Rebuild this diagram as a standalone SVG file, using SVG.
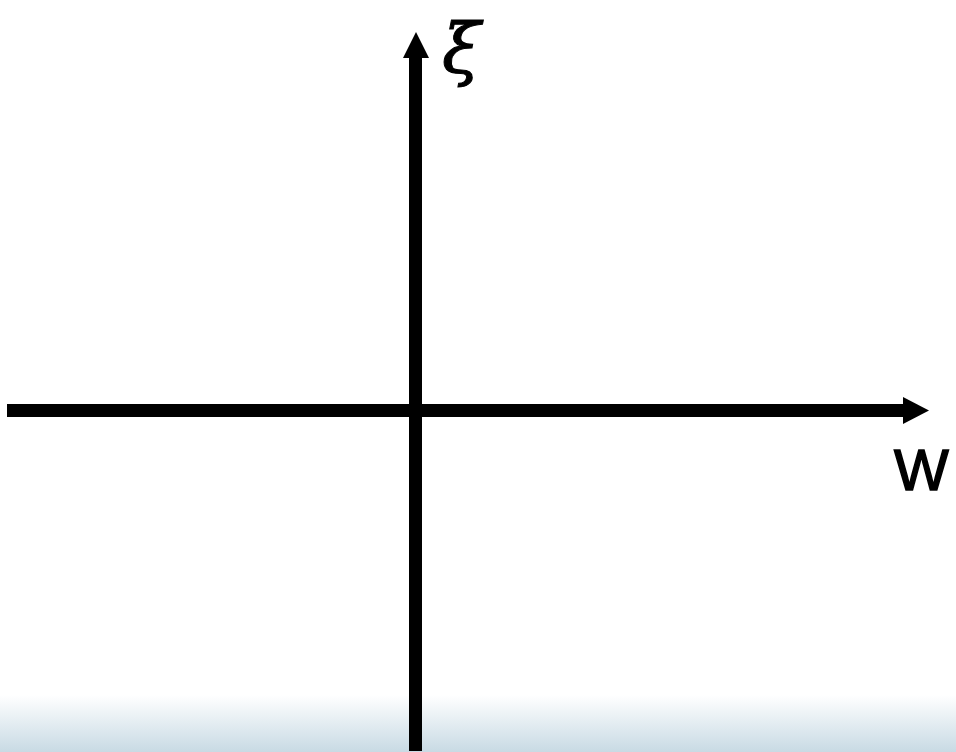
<svg xmlns="http://www.w3.org/2000/svg" width="956" height="752" viewBox="0 0 956 752">
<defs>
<linearGradient id="bg" x1="0" y1="0" x2="0" y2="1">
<stop offset="0" stop-color="#ffffff"/>
<stop offset="1" stop-color="#c8dae4"/>
</linearGradient>
</defs>
<style>
.axis{stroke:#000;stroke-width:13;fill:none}
.head{fill:#000}
</style>
<rect x="0" y="0" width="956" height="752" fill="#fff"/>
<rect x="0" y="695" width="956" height="57" fill="url(#bg)"/>
<g id="connectors">
<line class="axis" x1="7" y1="410.5" x2="905" y2="410.5"/>
<polygon class="head" points="903,397 929,410.5 903,424"/>
<line class="axis" x1="415.5" y1="751" x2="415.5" y2="56"/>
<polygon class="head" points="403,58 416,32 429,58"/>
</g>
<g id="label-xi">
<text x="442" y="73" font-family="'DejaVu Serif', serif" font-style="italic" font-size="70" stroke="#000" stroke-width="1">ξ</text>
</g>
<g id="label-w">
<text x="894" y="490" font-family="'Liberation Sans', sans-serif" font-size="58" stroke="#000" stroke-width="1.5">W</text>
</g>
</svg>
